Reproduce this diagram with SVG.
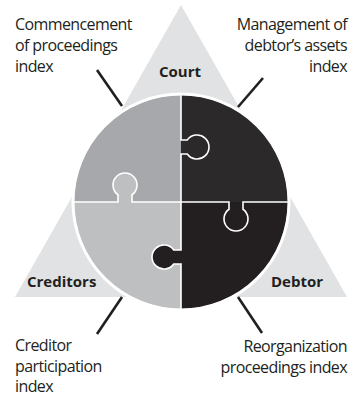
<svg xmlns="http://www.w3.org/2000/svg" width="350" height="396" viewBox="0 0 350 396">
<style>
.lbl{font-family:"Open Sans","Noto Sans",sans-serif;font-size:16px;fill:#231f20;letter-spacing:-0.6px}
.tri{font-family:"Open Sans","Noto Sans",sans-serif;font-size:15px;font-weight:bold;fill:#231f20}
.lead{stroke:#231f20;stroke-width:2.6;fill:none}
.seam{stroke:#ffffff;stroke-width:1.6;fill:none}
</style>
<rect width="350" height="396" fill="#ffffff"/>
<g id="triangle">
<polygon points="181,5 15,297 347,297" fill="#e1e2e3"/>
</g>
<g id="puzzle">
<path id="q-top-left" d="M181,202 L74,202 A107,107 0 0 1 181,95 Z" fill="#a7a8ab"/>
<path id="q-top-right" d="M181,202 L181,95 A107,107 0 0 1 288,202 Z" fill="#2b292a"/>
<path id="q-bottom-right" d="M181,202 L288,202 A107,107 0 0 1 181,309 Z" fill="#231f20"/>
<path id="q-bottom-left" d="M181,202 L181,309 A107,107 0 0 1 74,202 Z" fill="#bebfc1"/>
<path d="M118,203 L118,194.75 A12,12 0 1 1 132,194.75 L132,203 Z" fill="#bebfc1"/>
<path d="M182,250 L173.75,250 A12,12 0 1 0 173.75,264 L182,264 Z" fill="#231f20"/>
<path class="seam" d="M74,202 L118,202 L118,194.75 A12,12 0 1 1 132,194.75 L132,202 L229,202 L229,209.25 A12,12 0 1 0 243,209.25 L243,202 L288,202"/>
<path class="seam" d="M181,95 L181,140 L187.25,140 A12,12 0 1 1 187.25,154 L181,154 L181,250 L173.75,250 A12,12 0 1 0 173.75,264 L181,264 L181,309"/>
<circle cx="181" cy="202" r="108" fill="none" stroke="#ffffff" stroke-width="3"/>
</g>
<g id="connectors">
<line class="lead" x1="97" y1="70" x2="122" y2="106"/>
<line class="lead" x1="263" y1="78" x2="238" y2="107"/>
<line class="lead" x1="122" y1="297" x2="97" y2="334"/>
<line class="lead" x1="238" y1="297" x2="262" y2="333"/>
</g>
<g id="court"><text class="tri" x="180" y="77" text-anchor="middle">Court</text></g>
<g id="creditors"><text class="tri" x="27" y="287">Creditors</text></g>
<g id="debtor"><text class="tri" x="323" y="287" text-anchor="end">Debtor</text></g>
<g id="label-commencement">
<text class="lbl" x="15" y="30">Commencement</text>
<text class="lbl" x="15" y="51">of proceedings</text>
<text class="lbl" x="15" y="72">index</text>
</g>
<g id="label-management">
<text class="lbl" x="347" y="30" text-anchor="end">Management of</text>
<text class="lbl" x="347" y="51" text-anchor="end">debtor’s assets</text>
<text class="lbl" x="347" y="72" text-anchor="end">index</text>
</g>
<g id="label-creditor">
<text class="lbl" x="15" y="351">Creditor</text>
<text class="lbl" x="15" y="372">participation</text>
<text class="lbl" x="15" y="392">index</text>
</g>
<g id="label-reorganization">
<text class="lbl" x="347" y="352" text-anchor="end">Reorganization</text>
<text class="lbl" x="347" y="373" text-anchor="end">proceedings index</text>
</g>
</svg>
